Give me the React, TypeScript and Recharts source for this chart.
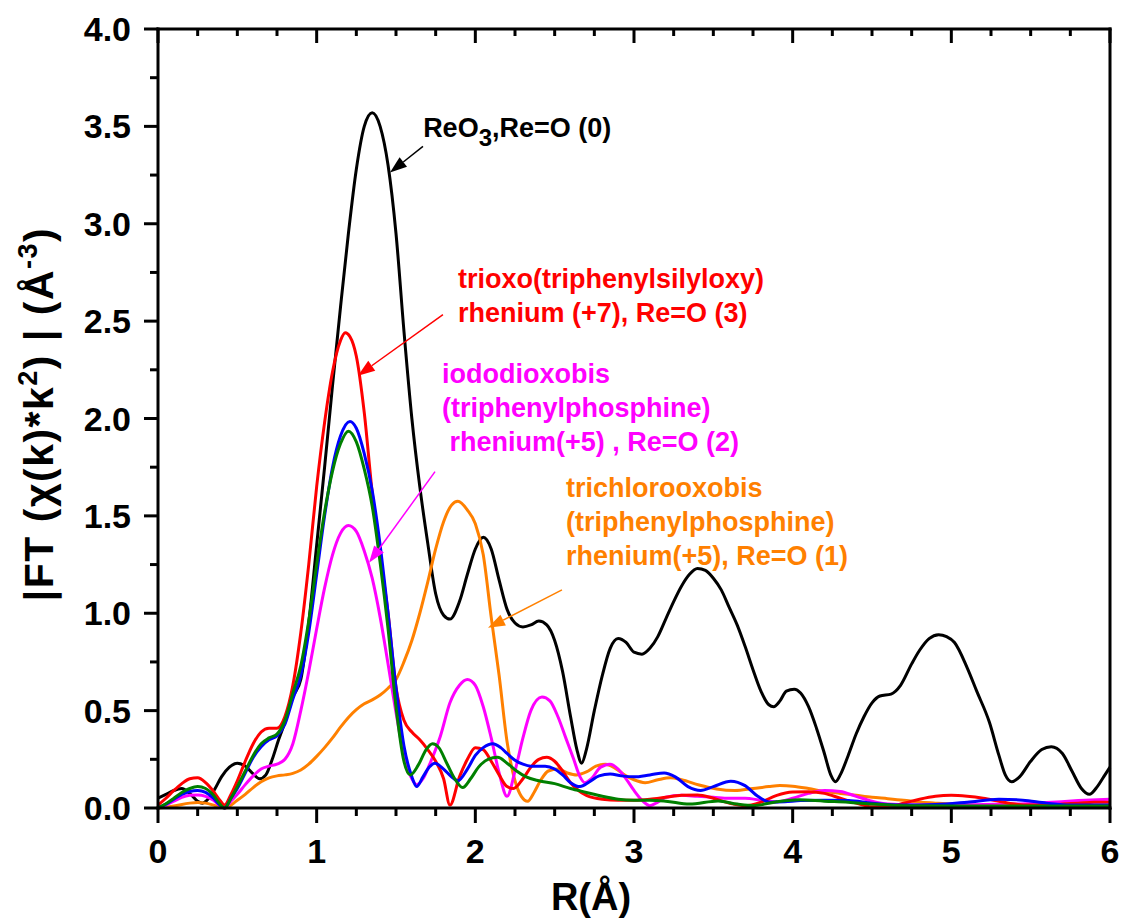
import React from "react";
import {
  LineChart,
  Line,
  XAxis,
  YAxis,
  ReferenceLine,
  ReferenceDot,
} from "recharts";

// R (Å), |FT| pairs
const reo3: [number, number][] = [
  [0, 0.05], [0.05, 0.07], [0.1, 0.09], [0.15, 0.1], [0.2, 0.075], [0.25, 0.035], [0.28, 0.025],
  [0.32, 0.05], [0.36, 0.1], [0.4, 0.16], [0.45, 0.21], [0.5, 0.23], [0.55, 0.215], [0.6, 0.175],
  [0.64, 0.15], [0.68, 0.17], [0.72, 0.25], [0.76, 0.35], [0.8, 0.44], [0.85, 0.57], [0.9, 0.66],
  [0.95, 0.95], [1.0, 1.35], [1.05, 1.75], [1.1, 2.17], [1.15, 2.57], [1.2, 2.95], [1.25, 3.28],
  [1.3, 3.5], [1.35, 3.57], [1.4, 3.5], [1.45, 3.3], [1.5, 2.95], [1.55, 2.45], [1.6, 2.0],
  [1.65, 1.65], [1.7, 1.36], [1.75, 1.1], [1.8, 0.99], [1.84, 0.97], [1.9, 1.06], [1.95, 1.2],
  [2.0, 1.33], [2.05, 1.39], [2.1, 1.33], [2.15, 1.17], [2.2, 1.02], [2.25, 0.95], [2.3, 0.93],
  [2.35, 0.94], [2.4, 0.96], [2.45, 0.94], [2.5, 0.86], [2.55, 0.7], [2.6, 0.47], [2.64, 0.3],
  [2.67, 0.23], [2.7, 0.3], [2.75, 0.5], [2.8, 0.68], [2.85, 0.82], [2.9, 0.87], [2.95, 0.85],
  [3.0, 0.8], [3.05, 0.79], [3.1, 0.82], [3.15, 0.88], [3.2, 0.97], [3.25, 1.06], [3.3, 1.14],
  [3.35, 1.2], [3.4, 1.23], [3.45, 1.22], [3.5, 1.18], [3.55, 1.12], [3.6, 1.03], [3.65, 0.94],
  [3.7, 0.83], [3.75, 0.71], [3.8, 0.6], [3.85, 0.53], [3.88, 0.52], [3.92, 0.55], [3.96, 0.6],
  [4.01, 0.61], [4.05, 0.59], [4.1, 0.52], [4.15, 0.41], [4.2, 0.28], [4.24, 0.17], [4.27, 0.135],
  [4.3, 0.17], [4.35, 0.27], [4.4, 0.38], [4.45, 0.47], [4.5, 0.54], [4.55, 0.575], [4.62, 0.585],
  [4.68, 0.63], [4.75, 0.74], [4.8, 0.81], [4.86, 0.87], [4.92, 0.89], [4.97, 0.88], [5.02, 0.85],
  [5.1, 0.72], [5.16, 0.6], [5.24, 0.44], [5.3, 0.27], [5.34, 0.17], [5.38, 0.135], [5.43, 0.16],
  [5.5, 0.24], [5.57, 0.3], [5.63, 0.315], [5.7, 0.28], [5.76, 0.19], [5.82, 0.1], [5.87, 0.07],
  [5.92, 0.11], [5.96, 0.16], [6.0, 0.21],
];

const trioxo: [number, number][] = [
  [0, 0.015], [0.05, 0.05], [0.1, 0.09], [0.15, 0.125], [0.2, 0.15], [0.25, 0.155], [0.3, 0.13],
  [0.35, 0.085], [0.39, 0.04], [0.42, 0.015], [0.46, 0.07], [0.5, 0.14], [0.55, 0.24], [0.6, 0.33],
  [0.65, 0.39], [0.7, 0.41], [0.75, 0.41], [0.8, 0.47], [0.85, 0.63], [0.9, 0.9], [0.95, 1.25],
  [1.0, 1.65], [1.05, 1.98], [1.1, 2.24], [1.15, 2.4], [1.18, 2.44], [1.21, 2.42], [1.25, 2.32],
  [1.3, 2.03], [1.35, 1.62], [1.4, 1.3], [1.45, 1.0], [1.5, 0.62], [1.55, 0.45], [1.6, 0.39],
  [1.65, 0.35], [1.7, 0.3], [1.75, 0.24], [1.8, 0.15], [1.84, 0.015], [1.9, 0.16], [1.95, 0.25],
  [2.0, 0.31], [2.05, 0.3], [2.1, 0.24], [2.15, 0.17], [2.2, 0.11], [2.24, 0.1], [2.3, 0.15],
  [2.35, 0.21], [2.4, 0.25], [2.45, 0.26], [2.5, 0.24], [2.55, 0.19], [2.6, 0.13], [2.65, 0.09],
  [2.7, 0.065], [2.8, 0.045], [2.9, 0.04], [3.0, 0.04], [3.1, 0.045], [3.2, 0.055], [3.3, 0.065],
  [3.4, 0.067], [3.5, 0.05], [3.6, 0.025], [3.7, 0.012], [3.8, 0.03], [3.9, 0.065], [4.0, 0.082],
  [4.1, 0.084], [4.2, 0.075], [4.3, 0.05], [4.4, 0.025], [4.5, 0.006], [4.6, 0.006], [4.7, 0.025],
  [4.8, 0.045], [4.9, 0.06], [5.0, 0.065], [5.1, 0.06], [5.2, 0.05], [5.3, 0.035], [5.4, 0.02],
  [5.5, 0.015], [5.6, 0.015], [5.7, 0.02], [5.8, 0.025], [5.9, 0.03], [6.0, 0.03],
];

const iodo: [number, number][] = [
  [0, 0], [0.05, 0.015], [0.1, 0.035], [0.15, 0.055], [0.2, 0.065], [0.25, 0.067], [0.3, 0.06],
  [0.35, 0.04], [0.39, 0.012], [0.42, 0], [0.46, 0.035], [0.5, 0.07], [0.55, 0.12], [0.6, 0.165],
  [0.65, 0.2], [0.7, 0.215], [0.75, 0.225], [0.8, 0.25], [0.85, 0.33], [0.9, 0.5], [0.95, 0.7],
  [1.0, 0.92], [1.05, 1.13], [1.1, 1.3], [1.15, 1.41], [1.2, 1.45], [1.25, 1.42], [1.3, 1.32],
  [1.35, 1.18], [1.4, 0.98], [1.45, 0.74], [1.5, 0.49], [1.55, 0.27], [1.6, 0.15], [1.63, 0.12],
  [1.67, 0.15], [1.72, 0.24], [1.78, 0.37], [1.84, 0.54], [1.9, 0.63], [1.95, 0.66], [2.0, 0.63],
  [2.05, 0.52], [2.1, 0.36], [2.15, 0.18], [2.2, 0.06], [2.25, 0.19], [2.3, 0.36], [2.35, 0.5],
  [2.42, 0.57], [2.47, 0.55], [2.52, 0.47], [2.57, 0.36], [2.62, 0.25], [2.66, 0.16], [2.69, 0.13],
  [2.73, 0.15], [2.79, 0.21], [2.85, 0.225], [2.9, 0.2], [2.95, 0.15], [3.0, 0.09], [3.05, 0.04],
  [3.1, 0.012], [3.15, 0.03], [3.2, 0.055], [3.3, 0.065], [3.4, 0.06], [3.5, 0.055], [3.6, 0.05],
  [3.7, 0.05], [3.8, 0.04], [3.9, 0.032], [4.0, 0.05], [4.1, 0.075], [4.2, 0.09], [4.3, 0.085],
  [4.4, 0.06], [4.5, 0.035], [4.6, 0.02], [4.8, 0.015], [5.0, 0.015], [5.2, 0.018], [5.4, 0.02],
  [5.6, 0.028], [5.8, 0.038], [6.0, 0.045],
];

const blueRe: [number, number][] = [
  [0, 0], [0.05, 0.02], [0.1, 0.045], [0.15, 0.07], [0.2, 0.085], [0.25, 0.09], [0.3, 0.08],
  [0.35, 0.05], [0.39, 0.015], [0.42, 0], [0.46, 0.05], [0.5, 0.1], [0.55, 0.18], [0.6, 0.26],
  [0.65, 0.315], [0.7, 0.35], [0.75, 0.37], [0.8, 0.43], [0.85, 0.56], [0.9, 0.68], [0.95, 0.9],
  [1.0, 1.2], [1.05, 1.5], [1.1, 1.75], [1.15, 1.91], [1.21, 1.985], [1.25, 1.95], [1.3, 1.82],
  [1.35, 1.63], [1.4, 1.35], [1.45, 1.0], [1.5, 0.62], [1.55, 0.32], [1.6, 0.16], [1.63, 0.11],
  [1.67, 0.16], [1.71, 0.21], [1.745, 0.23], [1.8, 0.2], [1.85, 0.16], [1.89, 0.14], [1.95, 0.2],
  [2.0, 0.27], [2.05, 0.31], [2.11, 0.33], [2.16, 0.31], [2.2, 0.28], [2.25, 0.245], [2.3, 0.225],
  [2.35, 0.215], [2.44, 0.215], [2.5, 0.2], [2.55, 0.17], [2.6, 0.13], [2.66, 0.11], [2.72, 0.135],
  [2.78, 0.165], [2.85, 0.175], [2.92, 0.165], [3.0, 0.16], [3.1, 0.17], [3.19, 0.18], [3.26, 0.16],
  [3.34, 0.11], [3.42, 0.09], [3.5, 0.11], [3.61, 0.138], [3.7, 0.115], [3.78, 0.06], [3.86, 0.03],
  [3.95, 0.032], [4.05, 0.038], [4.2, 0.04], [4.35, 0.038], [4.5, 0.025], [4.7, 0.015], [4.9, 0.018],
  [5.1, 0.03], [5.3, 0.045], [5.45, 0.04], [5.6, 0.025], [5.75, 0.015], [6.0, 0.015],
];

const greenRe: [number, number][] = [
  [0, 0], [0.05, 0.022], [0.1, 0.05], [0.15, 0.08], [0.2, 0.1], [0.25, 0.11], [0.3, 0.1],
  [0.35, 0.065], [0.39, 0.02], [0.42, 0], [0.46, 0.05], [0.5, 0.11], [0.55, 0.19], [0.6, 0.27],
  [0.65, 0.33], [0.7, 0.36], [0.75, 0.38], [0.8, 0.45], [0.85, 0.59], [0.9, 0.73], [0.95, 0.96],
  [1.0, 1.25], [1.05, 1.52], [1.1, 1.73], [1.15, 1.87], [1.2, 1.935], [1.25, 1.88], [1.3, 1.74],
  [1.35, 1.55], [1.4, 1.26], [1.45, 0.92], [1.5, 0.52], [1.55, 0.24], [1.59, 0.17], [1.64, 0.22],
  [1.69, 0.3], [1.73, 0.33], [1.77, 0.31], [1.82, 0.23], [1.87, 0.15], [1.92, 0.105], [1.97, 0.15],
  [2.02, 0.21], [2.08, 0.25], [2.14, 0.26], [2.2, 0.23], [2.26, 0.19], [2.32, 0.16], [2.4, 0.14],
  [2.5, 0.125], [2.6, 0.1], [2.7, 0.08], [2.8, 0.06], [2.9, 0.045], [3.0, 0.04], [3.1, 0.04],
  [3.2, 0.035], [3.35, 0.02], [3.53, 0.036], [3.65, 0.02], [3.75, 0.012], [3.9, 0.032], [4.04, 0.042],
  [4.2, 0.035], [4.35, 0.03], [4.5, 0.02], [4.7, 0.012], [5.0, 0.01], [5.5, 0.01], [6.0, 0.01],
];

const trichloro: [number, number][] = [
  [0, 0], [0.1, 0.01], [0.2, 0.025], [0.25, 0.028], [0.3, 0.025], [0.36, 0.012], [0.42, 0],
  [0.5, 0.04], [0.55, 0.07], [0.6, 0.105], [0.65, 0.135], [0.7, 0.155], [0.75, 0.165], [0.8, 0.17],
  [0.85, 0.178], [0.9, 0.195], [0.95, 0.225], [1.0, 0.265], [1.05, 0.31], [1.1, 0.36], [1.15, 0.415],
  [1.2, 0.465], [1.25, 0.505], [1.3, 0.535], [1.35, 0.555], [1.4, 0.58], [1.45, 0.615], [1.5, 0.66],
  [1.55, 0.75], [1.6, 0.86], [1.65, 1.0], [1.7, 1.16], [1.75, 1.33], [1.8, 1.47], [1.85, 1.555],
  [1.89, 1.575], [1.95, 1.53], [2.0, 1.46], [2.05, 1.3], [2.1, 0.98], [2.15, 0.68], [2.2, 0.34],
  [2.25, 0.14], [2.29, 0.06], [2.33, 0.035], [2.37, 0.08], [2.41, 0.14], [2.46, 0.19], [2.52, 0.2],
  [2.58, 0.18], [2.64, 0.17], [2.7, 0.185], [2.76, 0.215], [2.82, 0.225], [2.88, 0.205], [2.95, 0.165],
  [3.0, 0.145], [3.07, 0.13], [3.15, 0.145], [3.23, 0.155], [3.3, 0.145], [3.41, 0.118], [3.52, 0.098],
  [3.635, 0.09], [3.75, 0.1], [3.85, 0.11], [3.92, 0.115], [4.0, 0.112], [4.1, 0.1], [4.2, 0.085],
  [4.3, 0.075], [4.4, 0.065], [4.5, 0.055], [4.6, 0.048], [4.7, 0.04], [4.8, 0.03], [4.9, 0.025],
  [5.0, 0.02], [5.2, 0.012], [5.4, 0.008], [5.6, 0.008], [5.8, 0.01], [6.0, 0.01],
];

const xTicks = [
  0, 0.25, 0.5, 0.75, 1, 1.25, 1.5, 1.75, 2, 2.25, 2.5, 2.75, 3, 3.25, 3.5, 3.75, 4, 4.25, 4.5,
  4.75, 5, 5.25, 5.5, 5.75, 6,
];
const yTicks = [
  0, 0.25, 0.5, 0.75, 1, 1.25, 1.5, 1.75, 2, 2.25, 2.5, 2.75, 3, 3.25, 3.5, 3.75, 4,
];

const FONT = "'Liberation Sans', Arial, Helvetica, sans-serif";

const series = [
  { name: "ReO3", data: reo3, color: "#000000" },
  { name: "trichloro", data: trichloro, color: "#FF8000" },
  { name: "iodo", data: iodo, color: "#FF00FF" },
  { name: "trioxo", data: trioxo, color: "#FF0000" },
  { name: "blue", data: blueRe, color: "#0000FF" },
  { name: "green", data: greenRe, color: "#008000" },
];

// annotation anchors in data units (R, |FT|)
const notes = [
  {
    color: "#000000",
    at: [1.671, 3.443],
    arrow: [[1.67, 3.397], [1.462, 3.263]],
    lines: [["ReO", "3", ",Re=O (0)"]],
  },
  {
    color: "#FF0000",
    at: [1.891, 2.672],
    arrow: [[1.796, 2.533], [1.26, 2.22]],
    lines: [["trioxo(triphenylsilyloxy)"], ["rhenium (+7), Re=O (3)"]],
  },
  {
    color: "#FF00FF",
    at: [1.79, 2.184],
    arrow: [[1.746, 1.727], [1.33, 1.259]],
    lines: [["iododioxobis"], ["(triphenylphosphine)"], [" rhenium(+5) , Re=O (2)"]],
  },
  {
    color: "#FF8000",
    at: [2.571, 1.598],
    arrow: [[2.546, 1.12], [2.08, 0.925]],
    lines: [["trichlorooxobis"], ["(triphenylphosphine)"], ["rhenium(+5), Re=O (1)"]],
  },
];

const toPoints = (s: [number, number][]) => s.map(([r, v]) => ({ r, v }));

function BottomLabel(props: any) {
  const { x, y, payload } = props;
  if (!Number.isInteger(payload.value)) return <g />;
  return (
    <text x={x} y={y + 55} textAnchor="middle" fontFamily={FONT} fontWeight={700} fontSize={34} fill="#000">
      {payload.value}
    </text>
  );
}

function LeftLabel(props: any) {
  const { x, y, payload } = props;
  if (payload.value % 0.5 !== 0) return <g />;
  return (
    <text x={x - 27} y={y + 12} textAnchor="end" fontFamily={FONT} fontWeight={700} fontSize={34} fill="#000">
      {payload.value.toFixed(1)}
    </text>
  );
}

// tick marks: outward at the bottom, inward at the top
function xTickShape(major: boolean) {
  return (p: any) => {
    const x = p.x1;
    const yb = Math.max(p.y1, p.y2);
    const yt = Math.min(p.y1, p.y2);
    return (
      <g>
        <line x1={x} x2={x} y1={yb} y2={yb + (major ? 15 : 8)} stroke="#000" strokeWidth={3} />
        <line x1={x} x2={x} y1={yt} y2={yt + (major ? 14 : 7)} stroke="#000" strokeWidth={3} />
      </g>
    );
  };
}

function yTickShape(major: boolean) {
  return (p: any) => {
    const x = Math.min(p.x1, p.x2);
    const y = p.y1;
    return <line x1={x} x2={x - (major ? 14 : 8)} y1={y} y2={y} stroke="#000" strokeWidth={3} />;
  };
}

function YTitle() {
  return (
    <text
      x={53}
      y={414}
      transform="rotate(-90, 53, 414)"
      textAnchor="middle"
      fontFamily={FONT}
      fontWeight={700}
      fontSize={41}
      letterSpacing={1.5}
      fill="#000"
    >
      <tspan>|FT (χ(k)*k</tspan>
      <tspan fontSize={27} dy={-16}>2</tspan>
      <tspan dy={16}>) | (Å</tspan>
      <tspan fontSize={27} dy={-16}>-3</tspan>
      <tspan dy={16}>)</tspan>
    </text>
  );
}

function XTitle() {
  return (
    <text x={591} y={910} textAnchor="middle" fontFamily={FONT} fontWeight={700} fontSize={38} fill="#000">
      R(Å)
    </text>
  );
}

function arrowShape(color: string) {
  return (p: any) => {
    const { x1, y1, x2, y2 } = p;
    const dx = x2 - x1;
    const dy = y2 - y1;
    const len = Math.hypot(dx, dy) || 1;
    const ux = dx / len;
    const uy = dy / len;
    const hl = 17;
    const hw = 6;
    const bx = x2 - ux * hl;
    const by = y2 - uy * hl;
    const pts = `${x2},${y2} ${bx - uy * hw},${by + ux * hw} ${bx + uy * hw},${by - ux * hw}`;
    return (
      <g>
        <line x1={x1} y1={y1} x2={bx} y2={by} stroke={color} strokeWidth={1.5} />
        <polygon points={pts} fill={color} />
      </g>
    );
  };
}

function noteShape(color: string, lines: string[][]) {
  return (p: any) => {
    const { cx, cy } = p;
    return (
      <text
        x={cx}
        y={cy}
        fontFamily={FONT}
        fontWeight={700}
        fontSize={27}
        fill={color}
        style={{ whiteSpace: "pre" }}
      >
        {lines.map((parts, i) =>
          parts.length === 3 ? (
            <tspan key={i} x={cx} dy={i === 0 ? 0 : 34}>
              {parts[0]}
              <tspan fontSize={24} dy={9}>{parts[1]}</tspan>
              <tspan dy={-9}>{parts[2]}</tspan>
            </tspan>
          ) : (
            <tspan key={i} x={cx} dy={i === 0 ? 0 : 34}>
              {parts[0]}
            </tspan>
          )
        )}
      </text>
    );
  };
}

export default function App() {
  return (
    <div style={{ position: "absolute", left: 0, top: 0, width: 1121, height: 921, background: "#fff" }}>
      <LineChart width={1121} height={921} margin={{ top: 29, right: 11, bottom: 0, left: 0 }}>
        <XAxis
          dataKey="r"
          type="number"
          domain={[0, 6]}
          ticks={xTicks}
          interval={0}
          height={113}
          tickSize={0}
          tickMargin={0}
          tickLine={false}
          tick={<BottomLabel />}
          axisLine={{ stroke: "#000", strokeWidth: 3, strokeLinecap: "square" }}
          label={<XTitle />}
        />
        <YAxis
          type="number"
          domain={[0, 4]}
          ticks={yTicks}
          interval={0}
          width={158}
          tickSize={0}
          tickMargin={0}
          tickLine={false}
          tick={<LeftLabel />}
          axisLine={{ stroke: "#000", strokeWidth: 3, strokeLinecap: "square" }}
          label={<YTitle />}
        />
        {series.map((s) => (
          <Line
            key={s.name}
            data={toPoints(s.data)}
            dataKey="v"
            type="monotone"
            stroke={s.color}
            strokeWidth={3}
            dot={false}
            activeDot={false}
            isAnimationActive={false}
          />
        ))}
        <ReferenceLine y={4} stroke="#000" strokeWidth={3} strokeLinecap="square" />
        <ReferenceLine x={6} stroke="#000" strokeWidth={3} strokeLinecap="square" />
        {xTicks.map((t) => (
          <ReferenceLine key={`xt${t}`} x={t} shape={xTickShape(Number.isInteger(t))} />
        ))}
        {yTicks.map((t) => (
          <ReferenceLine key={`yt${t}`} y={t} shape={yTickShape(t % 0.5 === 0)} />
        ))}
        {notes.map((n, i) => (
          <ReferenceLine
            key={`a${i}`}
            segment={[
              { x: n.arrow[0][0], y: n.arrow[0][1] },
              { x: n.arrow[1][0], y: n.arrow[1][1] },
            ]}
            shape={arrowShape(n.color)}
          />
        ))}
        {notes.map((n, i) => (
          <ReferenceDot
            key={`t${i}`}
            x={n.at[0]}
            y={n.at[1]}
            r={0}
            shape={noteShape(n.color, n.lines)}
          />
        ))}
      </LineChart>
    </div>
  );
}
